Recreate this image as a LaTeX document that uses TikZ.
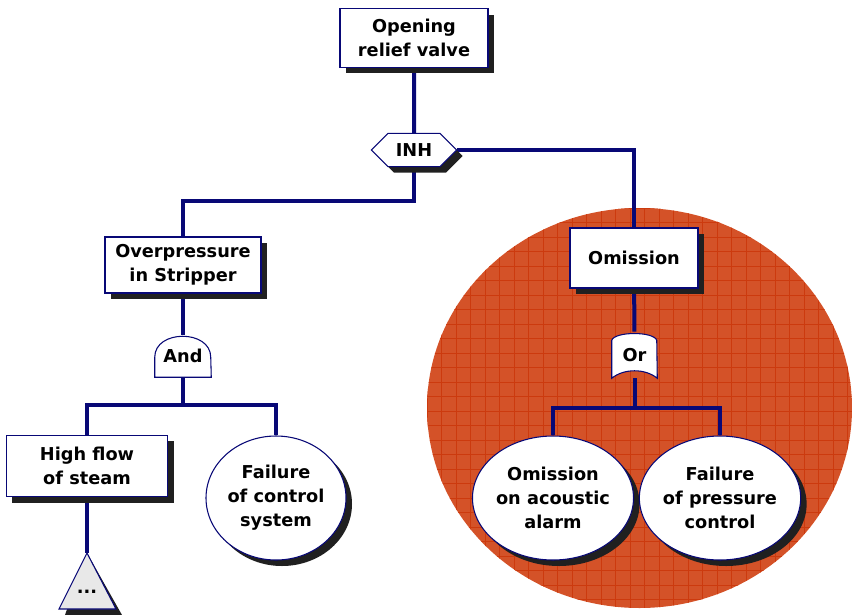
\documentclass[tikz,border=0pt]{standalone}
\usepackage{fontspec}
\setmainfont{DejaVu Sans}
\usetikzlibrary{shapes.geometric,shapes.symbols,shadows,backgrounds}

\definecolor{navy}{RGB}{8,8,118}
\definecolor{shade}{RGB}{32,32,32}
\definecolor{rust}{RGB}{212,82,40}
\definecolor{rustline}{RGB}{204,58,14}
\definecolor{pale}{RGB}{232,232,232}

\tikzset{
    label text/.style={font=\bfseries\fontsize{13.3}{18}\selectfont, align=center, text=black},
    event/.style={label text, rectangle, draw=navy, line width=0.8pt, fill=white, inner sep=2pt,
        drop shadow={shadow xshift=4.5pt, shadow yshift=-4.5pt, opacity=1, fill=shade}},
    basic/.style={label text, ellipse, draw=navy, line width=0.8pt, fill=white, inner sep=0pt,
        minimum width=105pt, minimum height=93pt,
        drop shadow={shadow xshift=4.5pt, shadow yshift=-4.5pt, opacity=1, fill=shade}},
    gatetext/.style={label text, inner sep=0pt},
    gate/.style={draw=navy, line width=0.8pt, fill=white},
    gateshadow/.style={fill=shade, xshift=4.5pt, yshift=-4.5pt},
    wire/.style={draw=navy, line width=3pt}
}

\begin{document}
\begin{tikzpicture}[x=0.75pt, y=-0.75pt]

    \useasboundingbox (0,0) rectangle (852,614);

    % events
    \node[event, minimum width=111pt, minimum height=44pt] (valve) at (414,38) {Opening\\relief valve};
    \node[label text, signal, signal to=east and west, draw=navy, line width=0.8pt, fill=white,
        inner sep=0pt, minimum width=64pt, minimum height=25pt,
        drop shadow={shadow xshift=4.5pt, shadow yshift=-4.5pt, opacity=1, fill=shade}] (inh) at (414,150) {INH};
    \node[event, minimum width=117pt, minimum height=42pt] (over) at (183,265) {Overpressure\\in Stripper};
    \node[event, minimum width=121pt, minimum height=46pt] (flow) at (87,466) {High flow\\of steam};
    \node[basic] (ctrl) at (276,498) {Failure\\of control\\system};
    \node[event, minimum width=96pt, minimum height=45pt] (omis) at (634,258) {Omission};
    \node[basic] (alarm) at (553,498) {Omission\\on acoustic\\alarm};
    \node[basic] (press) at (720,498) {Failure\\of pressure\\control};

    % gates
    \node[gatetext, minimum width=42pt, minimum height=31.5pt] (and) at (183,356) {And};
    \node[gatetext, minimum width=33.75pt, minimum height=34.5pt] (or) at (634.5,355) {Or};
    \coordinate (apex) at (87,553);
    \node[label text, inner sep=0pt] (more) at (87,592) {...};

    \begin{scope}[on background layer]
        \begin{scope}
            \clip (639.5,408) ellipse [x radius=212.5, y radius=200];
            \fill[rust] (420,200) rectangle (852,614);
            \foreach \g in {0,...,30} {
                \draw[rustline, line width=0.8pt] ({427.2+\g*14.5},200) -- ++(0,420);
                \draw[rustline, line width=0.8pt] (420,{208.3+\g*14.5}) -- ++(440,0);
            }
        \end{scope}

        \draw[wire] (valve) -- (inh);
        \draw[wire] (inh.east) -| (omis.north);
        \draw[wire] (inh.south) -- ++(0,34) -| (over.north);
        \draw[wire] (over) -- (and);
        \draw[wire] (and.south) -- ++(0,28) coordinate (andbus);
        \draw[wire] (andbus) -| (flow.north);
        \draw[wire] (andbus) -| (ctrl.north);
        \draw[wire] (omis) -- (or);
        \draw[wire] (or.south) -- ++(0,30) coordinate (orbus);
        \draw[wire] (orbus) -| (alarm.north);
        \draw[wire] (orbus) -| (press.north);
        \draw[wire] (flow) -- (apex);

        \fill[gateshadow] (and.south west) -- ++(0,-20) .. controls +(0,-28) and +(0,-28) .. ++(56,0) -- (and.south east) -- cycle;
        \draw[gate] (and.south west) -- ++(0,-20) .. controls +(0,-28) and +(0,-28) .. ++(56,0) -- (and.south east) -- cycle;

        \fill[gateshadow] (or.south west) -- ++(0,-38) .. controls +(3,-9) and +(-3,-9) .. ++(45,0) -- (or.south east) .. controls +(-12,-10) and +(12,-10) .. (or.south west) -- cycle;
        \draw[gate] (or.south west) -- ++(0,-38) .. controls +(3,-9) and +(-3,-9) .. ++(45,0) -- (or.south east) .. controls +(-12,-10) and +(12,-10) .. (or.south west) -- cycle;

        \fill[gateshadow] (apex) -- (59,609) -- (116,609) -- cycle;
        \draw[gate, fill=pale] (apex) -- (59,609) -- (116,609) -- cycle;
    \end{scope}

\end{tikzpicture}
\end{document}
